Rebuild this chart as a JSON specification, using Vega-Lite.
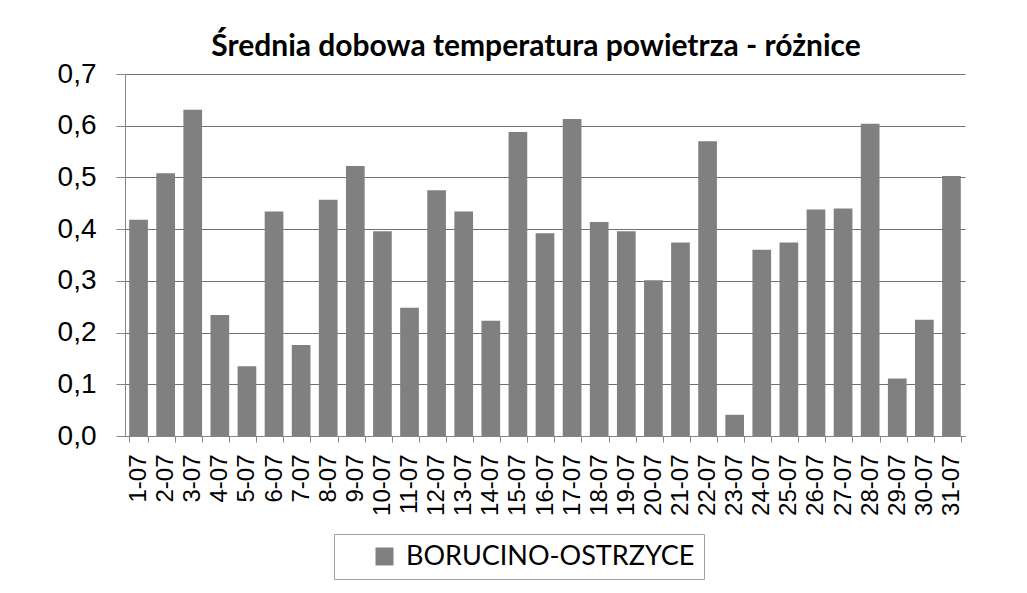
{
  "$schema": "https://vega.github.io/schema/vega-lite/v6.json",
  "autosize": {"type": "none"},
  "width": 840,
  "height": 362,
  "padding": {"left": 125, "top": 74, "right": 62, "bottom": 157},
  "background": "white",
  "title": {
    "text": "Średnia dobowa temperatura powietrza - różnice",
    "font": "Lato",
    "fontSize": 30,
    "fontWeight": "bold",
    "color": "black",
    "anchor": "middle",
    "frame": "group",
    "offset": 0,
    "dx": -9,
    "dy": 2
  },
  "data": {
    "values": [
      {"dzien": "1-07", "roznica": 0.418, "seria": "BORUCINO-OSTRZYCE"},
      {"dzien": "2-07", "roznica": 0.508, "seria": "BORUCINO-OSTRZYCE"},
      {"dzien": "3-07", "roznica": 0.631, "seria": "BORUCINO-OSTRZYCE"},
      {"dzien": "4-07", "roznica": 0.234, "seria": "BORUCINO-OSTRZYCE"},
      {"dzien": "5-07", "roznica": 0.135, "seria": "BORUCINO-OSTRZYCE"},
      {"dzien": "6-07", "roznica": 0.434, "seria": "BORUCINO-OSTRZYCE"},
      {"dzien": "7-07", "roznica": 0.176, "seria": "BORUCINO-OSTRZYCE"},
      {"dzien": "8-07", "roznica": 0.457, "seria": "BORUCINO-OSTRZYCE"},
      {"dzien": "9-07", "roznica": 0.522, "seria": "BORUCINO-OSTRZYCE"},
      {"dzien": "10-07", "roznica": 0.396, "seria": "BORUCINO-OSTRZYCE"},
      {"dzien": "11-07", "roznica": 0.248, "seria": "BORUCINO-OSTRZYCE"},
      {"dzien": "12-07", "roznica": 0.475, "seria": "BORUCINO-OSTRZYCE"},
      {"dzien": "13-07", "roznica": 0.434, "seria": "BORUCINO-OSTRZYCE"},
      {"dzien": "14-07", "roznica": 0.223, "seria": "BORUCINO-OSTRZYCE"},
      {"dzien": "15-07", "roznica": 0.588, "seria": "BORUCINO-OSTRZYCE"},
      {"dzien": "16-07", "roznica": 0.392, "seria": "BORUCINO-OSTRZYCE"},
      {"dzien": "17-07", "roznica": 0.613, "seria": "BORUCINO-OSTRZYCE"},
      {"dzien": "18-07", "roznica": 0.414, "seria": "BORUCINO-OSTRZYCE"},
      {"dzien": "19-07", "roznica": 0.396, "seria": "BORUCINO-OSTRZYCE"},
      {"dzien": "20-07", "roznica": 0.301, "seria": "BORUCINO-OSTRZYCE"},
      {"dzien": "21-07", "roznica": 0.374, "seria": "BORUCINO-OSTRZYCE"},
      {"dzien": "22-07", "roznica": 0.570, "seria": "BORUCINO-OSTRZYCE"},
      {"dzien": "23-07", "roznica": 0.041, "seria": "BORUCINO-OSTRZYCE"},
      {"dzien": "24-07", "roznica": 0.360, "seria": "BORUCINO-OSTRZYCE"},
      {"dzien": "25-07", "roznica": 0.374, "seria": "BORUCINO-OSTRZYCE"},
      {"dzien": "26-07", "roznica": 0.438, "seria": "BORUCINO-OSTRZYCE"},
      {"dzien": "27-07", "roznica": 0.440, "seria": "BORUCINO-OSTRZYCE"},
      {"dzien": "28-07", "roznica": 0.604, "seria": "BORUCINO-OSTRZYCE"},
      {"dzien": "29-07", "roznica": 0.111, "seria": "BORUCINO-OSTRZYCE"},
      {"dzien": "30-07", "roznica": 0.225, "seria": "BORUCINO-OSTRZYCE"},
      {"dzien": "31-07", "roznica": 0.503, "seria": "BORUCINO-OSTRZYCE"}
    ]
  },
  "mark": {"type": "bar"},
  "encoding": {
    "x": {
      "field": "dzien",
      "type": "nominal",
      "sort": null,
      "title": null,
      "scale": {"paddingInner": 0.31, "paddingOuter": 0.155},
      "axis": {
        "tickBand": "extent",
        "tickSize": 6,
        "tickColor": "#868686",
        "domainColor": "#868686",
        "labelAngle": -90,
        "labelFont": "Liberation Sans",
        "labelFontSize": 24,
        "labelColor": "black",
        "labelPadding": 12,
        "grid": false
      }
    },
    "y": {
      "field": "roznica",
      "type": "quantitative",
      "title": null,
      "scale": {"domain": [0, 0.7], "nice": false},
      "axis": {
        "values": [0, 0.1, 0.2, 0.3, 0.4, 0.5, 0.6, 0.7],
        "labelExpr": "replace(format(datum.value, '.1f'), '.', ',')",
        "labelFont": "Liberation Sans",
        "labelFontSize": 28,
        "labelColor": "black",
        "labelPadding": 20,
        "tickSize": 9,
        "tickColor": "#868686",
        "domain": true,
        "domainColor": "#868686",
        "grid": true,
        "gridColor": "#707070",
        "gridOpacity": 1
      }
    },
    "color": {
      "field": "seria",
      "type": "nominal",
      "scale": {"range": ["#808080"]},
      "legend": {
        "title": null,
        "orient": "none",
        "legendX": 209,
        "legendY": 460,
        "strokeColor": "#a0a0a0",
        "padding": 9,
        "symbolType": "square",
        "symbolSize": 324,
        "symbolStrokeWidth": 0,
        "symbolOffset": 28,
        "labelOffset": 8,
        "labelFont": "Lato",
        "labelFontSize": 27,
        "labelColor": "black",
        "labelLimit": 500,
        "labelExpr": "datum.label + '\u00a0\u00a0\u00a0\u00a0'"
      }
    }
  },
  "config": {
    "view": {"stroke": null}
  }
}
